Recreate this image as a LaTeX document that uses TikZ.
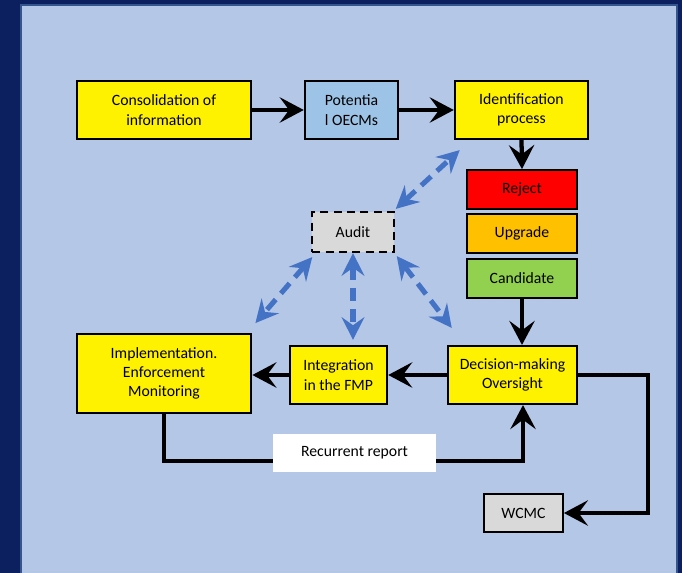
\documentclass[tikz,border=0pt]{standalone}
\usepackage{fontspec}
\setmainfont{Carlito}
\usetikzlibrary{arrows.meta}
\definecolor{navy}{HTML}{0C1F5E}
\definecolor{rim}{HTML}{35558F}
\definecolor{paleblue}{HTML}{B4C7E7}
\definecolor{potblue}{HTML}{9DC3E6}
\definecolor{rejred}{HTML}{FF0000}
\definecolor{upgorange}{HTML}{FFC000}
\definecolor{candgreen}{HTML}{92D050}
\definecolor{audgrey}{HTML}{D9D9D9}
\definecolor{linkblue}{HTML}{4472C4}

\tikzset{
  box/.style={draw, line width=1.6pt, align=center, inner sep=2pt,
    font=\fontsize{11.8}{14.5}\selectfont},
  arr/.style={line width=3.2pt, -{Stealth[length=18pt,width=19pt,inset=7pt]}},
  auditarr/.style={draw=linkblue, line width=3.8pt, dash pattern=on 10pt off 6pt,
    {Stealth[length=17pt,width=17pt,inset=6pt]}-{Stealth[length=17pt,width=17pt,inset=6pt]}}
}

\begin{document}
\begin{tikzpicture}[x=0.75pt,y=-0.75pt]
      \useasboundingbox (0,0) rectangle (682,573);
      % frame
      \fill[navy] (0,0) rectangle (682,573);
      \draw[rim, line width=2pt, fill=paleblue] (21,5) rectangle (677,590);

      % top row
      \node[box, fill=yellow, minimum width=130.5pt, minimum height=43.5pt] (cons) at (164,110) {Consolidation of\\information};
      \node[box, fill=potblue, minimum width=70pt, minimum height=43.5pt] (pot) at (351.5,110) {Potentia\\l OECMs};
      \node[box, fill=yellow, minimum width=100pt, minimum height=43.5pt] (ident) at (521.5,110) {Identification\\process};

      % outcomes
      \node[box, fill=rejred, minimum width=83pt, minimum height=29pt] (reject) at (522,189.5) {Reject};
      \node[box, fill=upgorange, minimum width=83pt, minimum height=29pt] (upgrade) at (522,233.5) {Upgrade};
      \node[box, fill=candgreen, minimum width=83pt, minimum height=29pt] (cand) at (522,278.5) {Candidate};

      \node[box, fill=audgrey, dashed, dash pattern=on 6pt off 4pt, minimum width=61pt, minimum height=30pt] (audit) at (353,232) {Audit};

      % bottom row
      \node[box, fill=yellow, minimum width=131pt, minimum height=59pt] (impl) at (164,373.5) {Implementation.\\Enforcement\\Monitoring};
      \node[box, fill=yellow, minimum width=73pt, minimum height=43.5pt] (integ) at (338.5,375) {Integration\\in the FMP};
      \node[box, fill=yellow, minimum width=97pt, minimum height=43.5pt] (decis) at (512.5,375) {Decision-making\\Oversight};

      \node[box, fill=audgrey, minimum width=59pt, minimum height=28.5pt] (wcmc) at (523.5,513) {WCMC};

      \coordinate (loop) at (523,461);
      \coordinate (turn) at (648,375);

      % black flow
      \draw[arr] (cons) -- (pot);
      \draw[arr] (pot) -- (ident);
      \draw[arr] (ident.south) -- (reject.north);
      \draw[arr] (cand.south) -- (cand.south |- decis.north);
      \draw[arr] (decis) -- (integ);
      \draw[arr] (integ.west) -- (integ.west -| impl.east);
      \draw[arr] (impl.south) |- (loop) -- (loop |- decis.south);
      \draw[arr] (decis.east) -- (turn) |- (wcmc.east);

      \node[fill=white, minimum width=122pt, minimum height=28.5pt, font=\fontsize{11.8}{14.5}\selectfont] (report) at (354.5,453) {Recurrent report};

      % audit links
      \draw[auditarr] ([shift={(1,-2)}]audit.north east) -- ([shift={(6,10)}]ident.south west);
      \draw[auditarr] ([shift={(1,4)}]audit.south west) -- ([shift={(3,-10)}]impl.north east);
      \draw[auditarr] (audit.south) -- ([shift={(0,-5)}]audit.south |- integ.north);
      \draw[auditarr] ([shift={(2,3)}]audit.south east) -- ([shift={(5,-17)}]decis.north west);
\end{tikzpicture}
\end{document}
